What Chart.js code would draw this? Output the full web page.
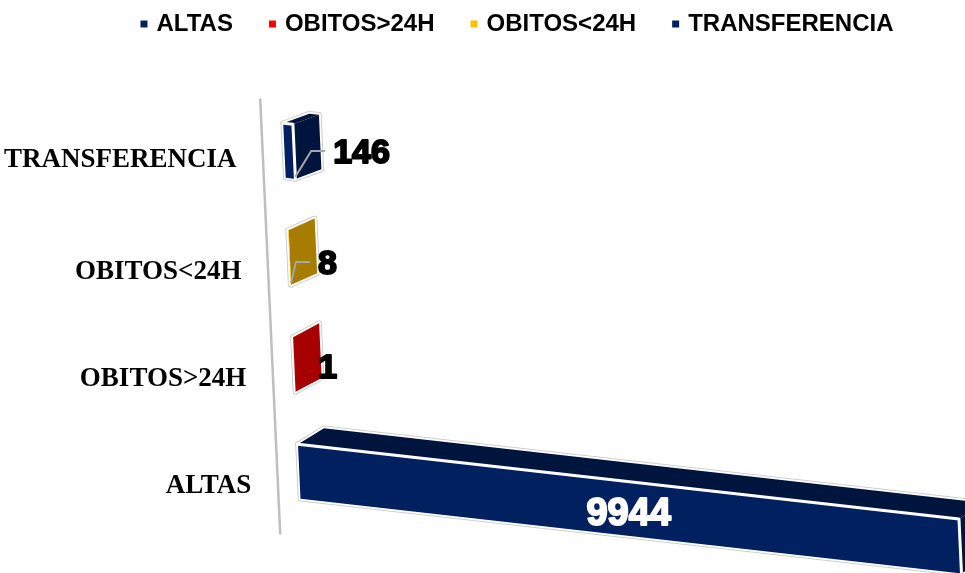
<!DOCTYPE html>
<html>
<head>
<meta charset="utf-8">
<title>Egresos</title>
<script src="https://cdn.jsdelivr.net/npm/chart.js@4"></script>
<style>
    html, body { margin: 0; padding: 0; background: #fff; }
    canvas { display: block; }
</style>
</head>
<body>
<canvas id="chart" width="965" height="573"></canvas>
<script>
const categories = ['ALTAS', 'OBITOS>24H', 'OBITOS<24H', 'TRANSFERENCIA'];
const values = [9944, 1, 8, 146];
const barColors = ['#002060', '#FF0000', '#FFC000', '#002060'];

// Fake 3D look: shear of the plot plane, plus the depth of each box
const SHEAR_X = 0.046;
const SHEAR_Y = 0.113;
const DEPTH_X = 26;
const AXIS_GAP = 22;
const LABEL_NUDGE = [0, -2, 2, 13];
const LABEL_DROP = [6, 4.5, 7.5, 3.5];
const CATEGORY_DROP = [15, 15, 15, 10];
const WITH_LEADER = [false, false, true, true];

function shade(hex) {
    const n = parseInt(hex.slice(1), 16);
    const c = [n >> 16, (n >> 8) & 255, n & 255].map(v => Math.round(v * 0.65));
    return 'rgb(' + c.join(',') + ')';
}

function polygon(ctx, pts) {
    ctx.beginPath();
    pts.forEach((p, i) => i ? ctx.lineTo(p[0], p[1]) : ctx.moveTo(p[0], p[1]));
    ctx.closePath();
}

const boxes3d = {
    id: 'boxes3d',
    // replaces the flat bars, geometry still comes from the bar elements
    beforeDatasetDraw: function(chart, args) {
        const ctx = chart.ctx;
        const area = chart.chartArea;
        const project = (x, y) => [x + SHEAR_X * (y - area.top), y + SHEAR_Y * (x - area.left)];
        const bars = args.meta.data;

        ctx.save();
        ctx.lineJoin = 'round';

        // axis line
        const a1 = project(area.left - AXIS_GAP, area.top + 4);
        const a2 = project(area.left - AXIS_GAP, area.bottom + 12);
        ctx.strokeStyle = '#bfbfbf';
        ctx.lineWidth = 2.5;
        ctx.beginPath();
        ctx.moveTo(a1[0], a1[1]);
        ctx.lineTo(a2[0], a2[1]);
        ctx.stroke();

        bars.forEach((bar, i) => {
            const top = bar.y - bar.height / 2;
            const bottom = bar.y + bar.height / 2;
            const dy = -8.5 - (bar.y - area.top) * 0.02;
            const back = p => [p[0] + DEPTH_X, p[1] + dy];

            const tl = project(bar.base, top);
            const tr = project(bar.x, top);
            const br = project(bar.x, bottom);
            const bl = project(bar.base, bottom);

            const topFace = [tl, tr, back(tr), back(tl)];
            const endFace = [tr, br, back(br), back(tr)];
            const front = [tl, tr, br, bl];
            const faces = [topFace, endFace, front];

            // grey rim, white rim, then fills
            ctx.strokeStyle = '#cfcfcf';
            ctx.lineWidth = 5.5;
            faces.forEach(f => { polygon(ctx, f); ctx.stroke(); });
            ctx.strokeStyle = '#fff';
            ctx.lineWidth = 3.5;
            faces.forEach(f => { polygon(ctx, f); ctx.stroke(); });

            ctx.fillStyle = shade(barColors[i]);
            polygon(ctx, topFace); ctx.fill();
            polygon(ctx, endFace); ctx.fill();
            ctx.fillStyle = barColors[i];
            polygon(ctx, front); ctx.fill();

            // white edges between the faces
            if (bar.x - bar.base > 4) {
                ctx.strokeStyle = '#fff';
                ctx.lineWidth = 3;
                ctx.beginPath();
                ctx.moveTo(tl[0], tl[1]);
                ctx.lineTo(tr[0], tr[1]);
                ctx.lineTo(br[0], br[1]);
                ctx.stroke();
            }
        });

        // value labels
        ctx.textBaseline = 'middle';
        bars.forEach((bar, i) => {
            const text = String(values[i]);
            let x, y;
            if (i === 0) {
                const mid = project((bar.base + bar.x) / 2, bar.y);
                x = mid[0] - 1;
                y = mid[1] + LABEL_DROP[i];
                ctx.font = 'bold 38px "Liberation Sans"';
                ctx.textAlign = 'center';
                ctx.fillStyle = '#fff';
                ctx.strokeStyle = '#fff';
            } else {
                const capRight = project(bar.x, bar.y)[0] + DEPTH_X;
                x = capRight + LABEL_NUDGE[i];
                y = bar.y + LABEL_DROP[i];
                ctx.font = 'bold 34px "Liberation Sans"';
                ctx.textAlign = 'left';
                ctx.fillStyle = '#000';
                ctx.strokeStyle = '#000';
            }
            if (WITH_LEADER[i]) {
                const start = project(bar.x, bar.y + bar.height / 2 - 2);
                ctx.save();
                ctx.strokeStyle = '#a6a6a6';
                ctx.lineWidth = 2;
                ctx.beginPath();
                ctx.moveTo(start[0], start[1]);
                ctx.lineTo(x - 22, y - 3);
                ctx.lineTo(x - 8, y - 3);
                ctx.stroke();
                ctx.restore();
            }
            ctx.lineWidth = 2;
            ctx.strokeText(text, x, y);
            ctx.fillText(text, x, y);
        });

        // category labels lean with the axis
        ctx.fillStyle = '#000';
        ctx.textAlign = 'right';
        ctx.font = 'bold 27px "Liberation Serif"';
        bars.forEach((bar, i) => {
            const p = project(area.left - AXIS_GAP - 26, bar.y);
            ctx.fillText(chart.scales.y.getLabelForValue(i), p[0], bar.y + CATEGORY_DROP[i]);
        });

        ctx.restore();
        return false;
    }
};

new Chart(document.getElementById('chart'), {
    type: 'bar',
    data: {
        labels: categories,
        datasets: [{
            data: values,
            backgroundColor: barColors,
            barPercentage: 0.51,
            categoryPercentage: 1
        }]
    },
    options: {
        indexAxis: 'y',
        responsive: false,
        animation: false,
        layout: {
            padding: { left: 72, top: -27, bottom: 48 }
        },
        scales: {
            x: {
                position: 'top',
                min: 0,
                max: 10275,
                grid: { display: false },
                border: { display: false },
                ticks: { display: false },
                afterFit: function(scale) { scale.height = 51; }
            },
            y: {
                reverse: true,
                grid: { display: false },
                border: { display: false },
                ticks: { display: false },
                afterFit: function(scale) { scale.width = 210; }
            }
        },
        plugins: {
            tooltip: { enabled: false },
            legend: {
                position: 'top',
                labels: {
                    color: '#000',
                    font: { family: '"Liberation Sans"', size: 24, weight: 'bold' },
                    usePointStyle: true,
                    pointStyle: 'rect',
                    boxWidth: 1,
                    boxHeight: 7,
                    padding: 39,
                    generateLabels: function(chart) {
                        return categories.map((name, i) => ({
                            text: name,
                            fillStyle: barColors[i],
                            strokeStyle: barColors[i],
                            lineWidth: 0,
                            pointStyle: 'rect',
                            index: i
                        }));
                    }
                }
            }
        }
    },
    plugins: [boxes3d]
});
</script>
</body>
</html>
